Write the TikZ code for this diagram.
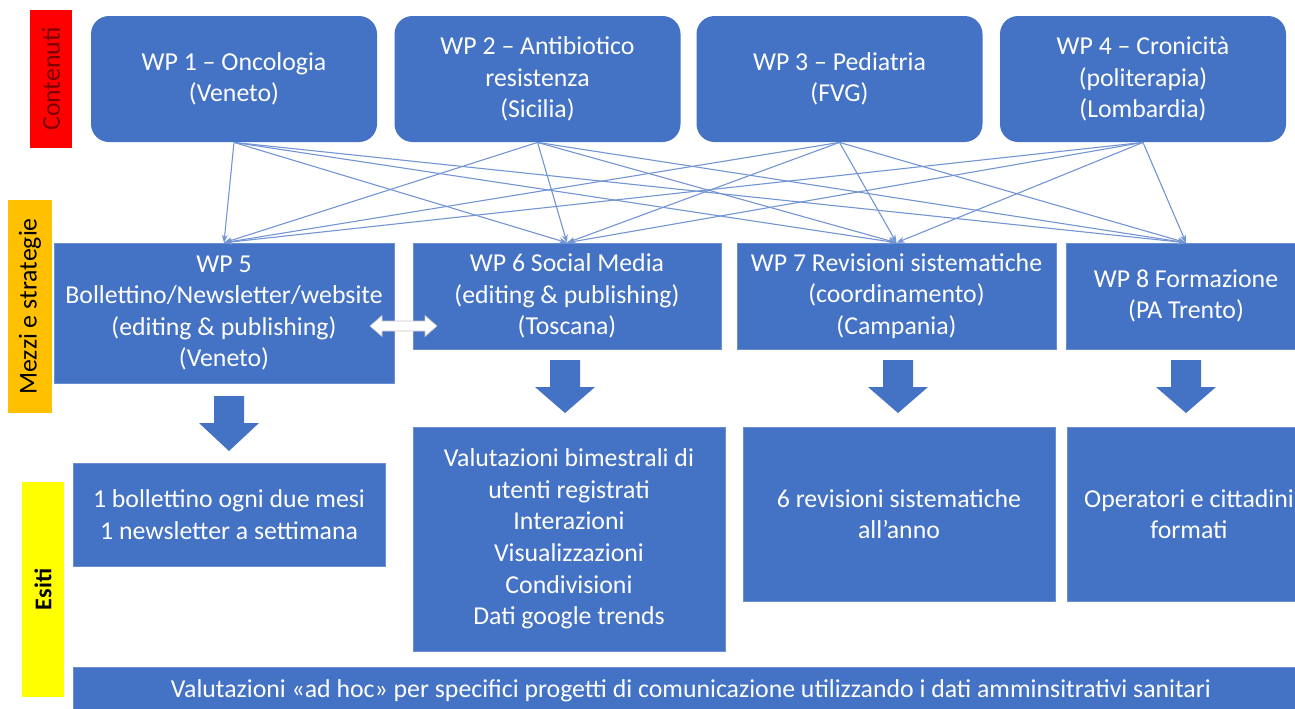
\documentclass[tikz,border=0pt]{standalone}
\usepackage{fontspec}
\setmainfont{Carlito}
\usetikzlibrary{arrows.meta}
\definecolor{wpblue}{HTML}{4472C4}
\definecolor{wpedge}{HTML}{6A8ED0}
\definecolor{lblred}{HTML}{FF0000}
\definecolor{lblorange}{HTML}{FFC000}
\definecolor{lblyellow}{HTML}{FFFF00}
\definecolor{darkred}{HTML}{7A0000}
\newcommand{\downarr}[4]{\fill[wpblue] (#1-15,#2) -- (#1+15,#2) -- (#1+15,#3) -- (#1+30,#3) -- (#1,#4) -- (#1-30,#3) -- (#1-15,#3) -- cycle;}
\begin{document}
\begin{tikzpicture}[x=0.5pt,y=-0.5pt,
  txt/.style={text=white, align=center, font=\fontsize{12.9pt}{15.8pt}\selectfont},
  wpround/.style={txt, fill=wpblue, rounded corners=9pt, minimum width=143pt, minimum height=63pt, inner sep=0pt},
  wpbox/.style={txt, fill=wpblue, draw=wpedge, line width=0.3pt, inner sep=0pt},
  sidelbl/.style={rotate=90, inner sep=0pt, font=\fontsize{12.9pt}{15.8pt}\selectfont},
  link/.style={wpblue!75, line width=0.55pt, -{Stealth[length=4pt,width=3pt]}},
]
\useasboundingbox (0,0) rectangle (1295,708);

% side labels
\node[sidelbl, fill=lblred, text=darkred, minimum width=69pt, minimum height=21pt] (lc) at (51,79) {Contenuti};
\node[sidelbl, fill=lblorange, text=black, minimum width=106.5pt, minimum height=22pt] (lm) at (30,306.5) {Mezzi e strategie};
\node[sidelbl, fill=lblyellow, text=black, minimum width=107.5pt, minimum height=21pt, font=\fontsize{12pt}{15pt}\selectfont\bfseries] (le) at (43,589.5) {Esiti};

% top row
\node[wpround] (wp1) at (234,79) {WP 1 – Oncologia\\(Veneto)};
\node[wpround] (wp2) at (537.5,79) {WP 2 – Antibiotico\\resistenza\\(Sicilia)};
\node[wpround] (wp3) at (839.5,79) {WP 3 – Pediatria\\(FVG)};
\node[wpround] (wp4) at (1143,79) {WP 4 – Cronicità\\(politerapia)\\(Lombardia)};

% middle row
\node[wpbox, minimum width=170pt, minimum height=70pt] (wp5) at (224,313) {WP 5\\Bollettino/Newsletter/website\\(editing \& publishing)\\(Veneto)};
\node[wpbox, minimum width=154pt, minimum height=53pt] (wp6) at (567,296) {WP 6 Social Media\\(editing \& publishing)\\(Toscana)};
\node[wpbox, minimum width=159.5pt, minimum height=53pt] (wp7) at (896.5,296) {WP 7 Revisioni sistematiche\\(coordinamento)\\(Campania)};
\node[wpbox, minimum width=120pt, minimum height=53pt] (wp8) at (1186,296) {WP 8 Formazione\\(PA Trento)};

% cross links
\foreach \s in {wp1,wp2,wp3,wp4}
  \foreach \t in {wp5,wp6,wp7,wp8}
    \draw[link] (\s.south) -- (\t.north);

% double arrow between WP5 and WP6
\draw[fill=white, draw=gray!45, line width=0.3pt]
  (370,326) -- (382,315.5) -- (382,321) -- (425,321) -- (425,315.5) -- (437,326)
  -- (425,336.5) -- (425,331) -- (382,331) -- (382,336.5) -- cycle;

% block arrows
\downarr{229}{396}{423}{451}
\downarr{565}{360}{387}{413}
\downarr{898}{360}{387}{413}
\downarr{1186}{360}{387}{413}

% outcomes
\node[wpbox, minimum width=156pt, minimum height=51.5pt] (b5) at (229,514.5) {1 bollettino ogni due mesi\\1 newsletter a settimana};
\node[wpbox, minimum width=156pt, minimum height=112pt] (b6) at (569,539) {Valutazioni bimestrali di\\utenti registrati\\Interazioni\\Visualizzazioni\\Condivisioni\\Dati google trends};
\node[wpbox, minimum width=156pt, minimum height=87pt] (b7) at (899,514) {6 revisioni sistematiche\\all’anno};
\node[wpbox, minimum width=122pt, minimum height=87pt] (b8) at (1189,514) {Operatori e cittadini\\formati};

% bottom bar
\node[wpbox, minimum width=618pt, minimum height=24pt] (bar) at (691,691) {Valutazioni «ad hoc» per specifici progetti di comunicazione utilizzando i dati amminsitrativi sanitari};
\end{tikzpicture}
\end{document}
